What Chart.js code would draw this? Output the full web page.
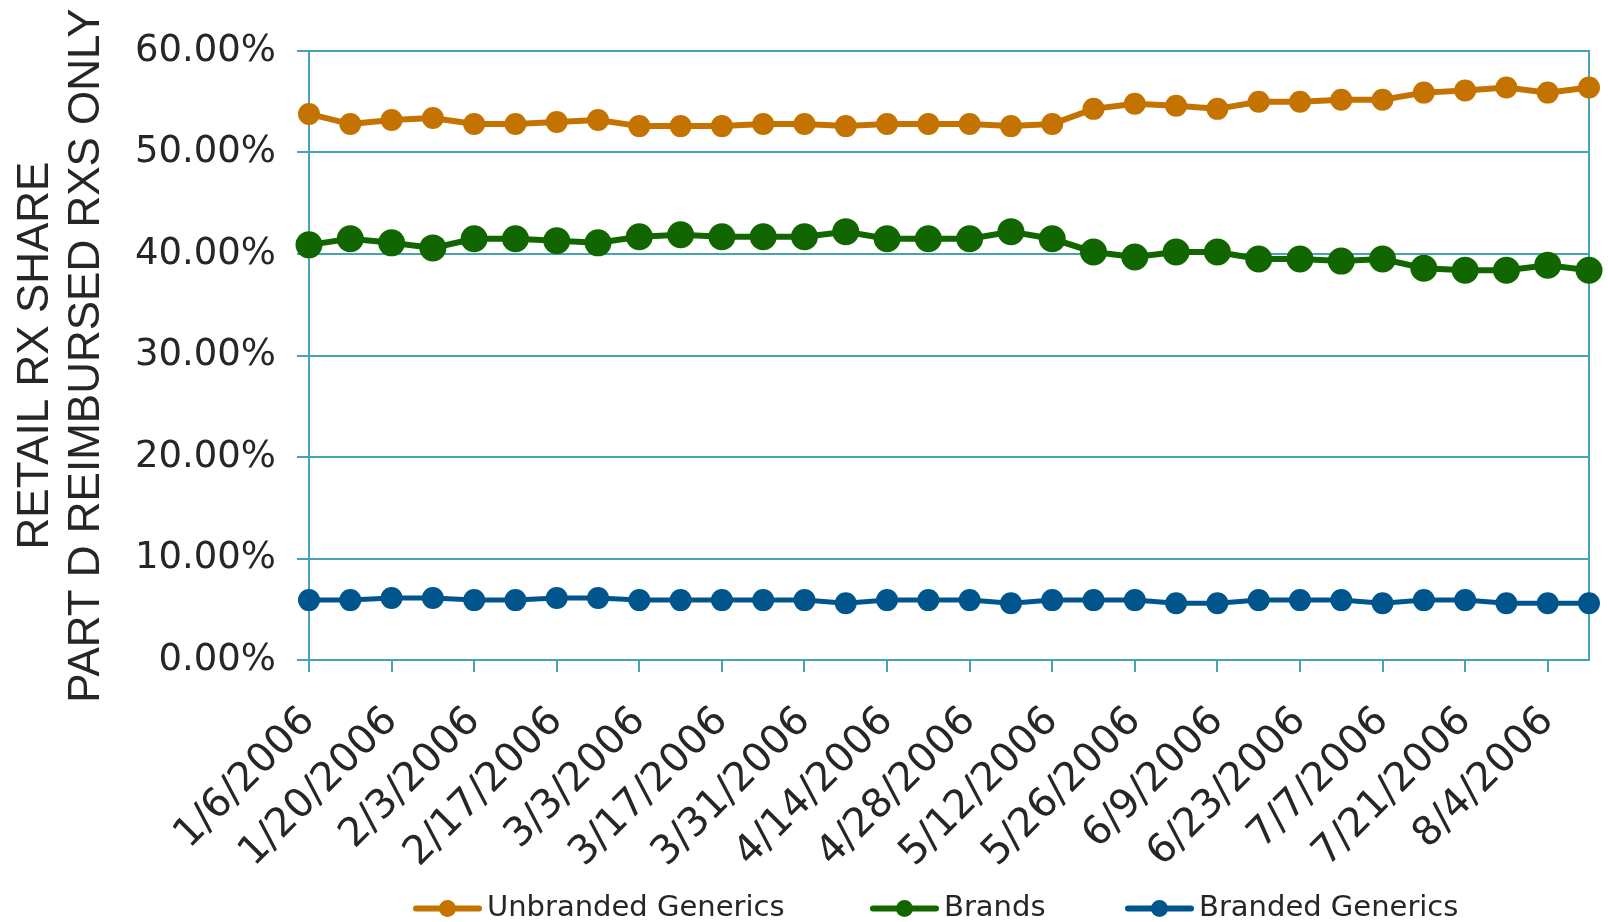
<!DOCTYPE html>
<html>
<head>
<meta charset="utf-8">
<script src="https://cdn.jsdelivr.net/npm/chart.js@4/dist/chart.umd.min.js"></script>
<style>
    body { margin: 0; background: #fff; }
    #wrap { width: 1608px; height: 922px; }
</style>
</head>
<body>
<div id="wrap"><canvas id="grafica-lineal" width="1608" height="922"></canvas></div>
<script>
// semanas (viernes) de 2006
const fechas = [
    "1/6/2006", "1/13/2006", "1/20/2006", "1/27/2006", "2/3/2006", "2/10/2006", "2/17/2006", "2/24/2006",
    "3/3/2006", "3/10/2006", "3/17/2006", "3/24/2006", "3/31/2006", "4/7/2006", "4/14/2006", "4/21/2006",
    "4/28/2006", "5/5/2006", "5/12/2006", "5/19/2006", "5/26/2006", "6/2/2006", "6/9/2006", "6/16/2006",
    "6/23/2006", "6/30/2006", "7/7/2006", "7/14/2006", "7/21/2006", "7/28/2006", "8/4/2006", "8/11/2006"
];

const unbrandedGenerics = [
    53.8, 52.8, 53.2, 53.4, 52.8, 52.8, 53.0, 53.2, 52.6, 52.6, 52.6, 52.8, 52.8, 52.6, 52.8, 52.8,
    52.8, 52.6, 52.8, 54.3, 54.8, 54.6, 54.3, 55.0, 55.0, 55.2, 55.2, 55.9, 56.1, 56.4, 55.9, 56.4
];

const brands = [
    40.9, 41.5, 41.1, 40.6, 41.5, 41.5, 41.3, 41.1, 41.7, 41.9, 41.7, 41.7, 41.7, 42.2, 41.5, 41.5,
    41.5, 42.2, 41.5, 40.2, 39.7, 40.2, 40.2, 39.5, 39.5, 39.3, 39.5, 38.6, 38.4, 38.4, 38.9, 38.4
];

const brandedGenerics = [
    5.9, 5.9, 6.1, 6.1, 5.9, 5.9, 6.1, 6.1, 5.9, 5.9, 5.9, 5.9, 5.9, 5.6, 5.9, 5.9,
    5.9, 5.6, 5.9, 5.9, 5.9, 5.6, 5.6, 5.9, 5.9, 5.9, 5.6, 5.9, 5.9, 5.6, 5.6, 5.6
];

const yTicks = [0, 10, 20, 30, 40, 50, 60];

const teal = "#46a3b3";
const texto = "#262626";

// leyenda dibujada a mano: linea con circulo + texto
const posLeyenda = [413, 870, 1125];
const leyendaPlugin = {
    id: "leyendaLinea",
    afterDraw(chart) {
        const ctx = chart.ctx;
        const y = 908.5;
        ctx.save();
        chart.data.datasets.forEach((ds, i) => {
            const x = posLeyenda[i];
            ctx.strokeStyle = ds.borderColor;
            ctx.lineWidth = 6;
            ctx.lineCap = "round";
            ctx.beginPath();
            ctx.moveTo(x + 3, y);
            ctx.lineTo(x + 66, y);
            ctx.stroke();
            ctx.fillStyle = ds.borderColor;
            ctx.beginPath();
            ctx.arc(x + 34.5, y, 8.5, 0, Math.PI * 2);
            ctx.fill();
            ctx.fillStyle = texto;
            ctx.font = "29px 'DejaVu Sans'";
            ctx.textBaseline = "middle";
            ctx.textAlign = "left";
            ctx.fillText(ds.label, x + 74, y);
        });
        ctx.restore();
    }
};

const ctxLineal = document.getElementById("grafica-lineal").getContext("2d");

const glineal = new Chart(ctxLineal, {
    type: "line",
    data: {
        labels: fechas,
        datasets: [{
            label: "Unbranded Generics",
            data: unbrandedGenerics,
            borderColor: "#c47200",
            backgroundColor: "#c47200",
            borderWidth: 6,
            pointRadius: 11,
            pointBorderWidth: 0,
            tension: 0,
            clip: false
        }, {
            label: "Brands",
            data: brands,
            borderColor: "#116600",
            backgroundColor: "#116600",
            borderWidth: 6,
            pointRadius: 13.5,
            pointBorderWidth: 0,
            tension: 0,
            clip: false
        }, {
            label: "Branded Generics",
            data: brandedGenerics,
            borderColor: "#00558c",
            backgroundColor: "#00558c",
            borderWidth: 5,
            pointRadius: 11,
            pointBorderWidth: 0,
            tension: 0,
            clip: false
        }]
    },
    options: {
        responsive: false,
        animation: false,
        layout: {
            padding: { left: 0, right: 19, top: 51, bottom: 32 }
        },
        scales: {
            x: {
                offset: false,
                afterFit: (scale) => {
                    scale.height = 230;
                    scale.paddingRight = 0;
                },
                grid: {
                    drawOnChartArea: false,
                    tickLength: 12,
                    lineWidth: 2,
                    color: (c) => (c.index % 2 === 0 ? teal : "rgba(0,0,0,0)")
                },
                border: { display: true, color: teal, width: 2 },
                ticks: {
                    autoSkip: false,
                    maxRotation: 45,
                    minRotation: 45,
                    padding: 26,
                    color: texto,
                    font: { family: "DejaVu Sans", size: 40 },
                    callback: function (value, index) {
                        return index % 2 === 0 ? this.getLabelForValue(value) : "";
                    }
                }
            },
            y: {
                min: 0,
                max: 60,
                afterFit: (scale) => { scale.width = 309; },
                afterBuildTicks: (scale) => { scale.ticks = yTicks.map(v => ({ value: v })); },
                grid: {
                    color: teal,
                    lineWidth: 2,
                    tickLength: 12
                },
                border: { display: true, color: teal, width: 2 },
                ticks: {
                    padding: 21,
                    color: texto,
                    font: { family: "DejaVu Sans", size: 37 },
                    callback: (v) => v.toFixed(2) + "%"
                },
                title: {
                    display: true,
                    text: ["RETAIL RX SHARE", "PART D REIMBURSED RXS ONLY"],
                    color: texto,
                    font: { family: "Liberation Sans", size: 44, lineHeight: 1.16 },
                    padding: { top: 10, bottom: 0 }
                }
            },
            y2: {
                position: "right",
                min: 0,
                max: 60,
                afterFit: (scale) => { scale.width = 0; },
                grid: { display: false },
                ticks: { display: false },
                border: { display: true, color: teal, width: 2 }
            }
        },
        plugins: {
            legend: { display: false },
            tooltip: { enabled: false }
        }
    },
    plugins: [leyendaPlugin]
});
</script>
</body>
</html>
